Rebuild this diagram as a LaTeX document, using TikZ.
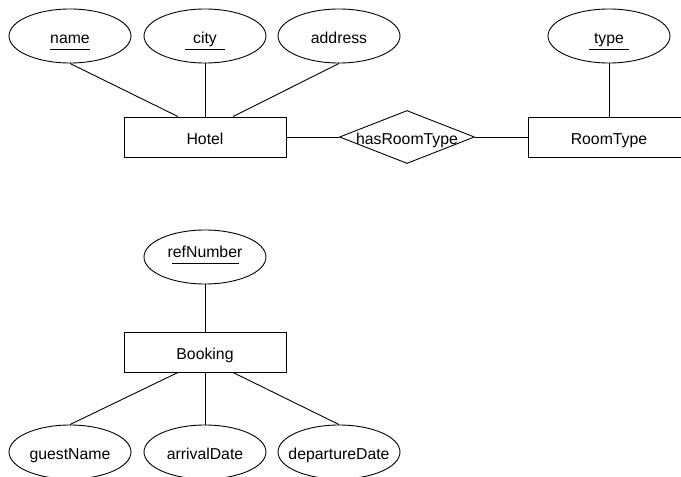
\documentclass[tikz,border=0pt]{standalone}
\usepackage{fontspec}
\setmainfont{Liberation Sans}
\usepackage{tikz}
\usetikzlibrary{shapes.geometric}
\usetikzlibrary{positioning}
\newcommand{\keyattr}[2][40pt]{\makebox[#1]{#2}\llap{\smash{\rule[-6.5pt]{#1}{0.9pt}}}}

\begin{document}
\begin{tikzpicture}[-,x=1pt,y=-1pt,line width=0.9pt,node distance=101pt,font=\fontsize{15.8}{19}\selectfont]
 \tikzstyle{entity}=[draw, rectangle, minimum width=162pt, minimum height=40pt, inner sep=0pt, text height=14pt, text depth=0pt]
 \tikzstyle{attrib}=[draw, ellipse, minimum width=122pt, minimum height=54pt, inner sep=0pt, text height=14pt, text depth=0pt]
 \tikzstyle{relation}=[draw, diamond, aspect=2.5, minimum width=135pt, minimum height=53pt, inner sep=0pt, text height=14pt, text depth=0pt]
 \clip (0,0) rectangle (681,477);
 % hotel part
 \node[entity]   (hotel) at (205,137)                       {Hotel};
 \node[attrib]   (city)     [above of=hotel]                {\keyattr{city}};
 \node[attrib]   (name)     [left of=city, node distance=135pt]  {\keyattr{name}};
 \node[attrib]   (address)  [right of=city, node distance=134pt] {address};
 \node[relation] (hasrt)    [right of=hotel, node distance=202pt] {\makebox[40pt]{hasRoomType}};
 \node[entity]   (roomtype) [right of=hasrt, node distance=202pt] {RoomType};
 \node[attrib]   (type)     [above of=roomtype]             {\keyattr{type}};
 % booking part
 \node[entity]   (booking) at (205,352)                     {Booking};
 \node[attrib, text height=0pt] (refnum) [above of=booking, node distance=95pt] {\keyattr[67pt]{refNumber}};
 \node[attrib]   (arrival)   [below of=booking, node distance=100pt] {arrivalDate};
 \node[attrib]   (guest)     [left of=arrival, node distance=135pt]  {guestName};
 \node[attrib]   (departure) [right of=arrival, node distance=134pt] {\makebox[60pt]{departureDate}};
 \path
   (name.south)    edge ([xshift=-27pt]hotel.north)
   (city.south)    edge (city.south |- hotel.north)
   (address.south) edge ([xshift=28pt]hotel.north)
   (hotel)         edge (hasrt)
   (hasrt)         edge (roomtype)
   (type)          edge (roomtype)
   (refnum)        edge (booking)
   ([xshift=-27pt]booking.south) edge (guest.north)
   (booking.south) edge (booking.south |- arrival.north)
   ([xshift=28pt]booking.south)  edge (departure.north);
\end{tikzpicture}
\end{document}
